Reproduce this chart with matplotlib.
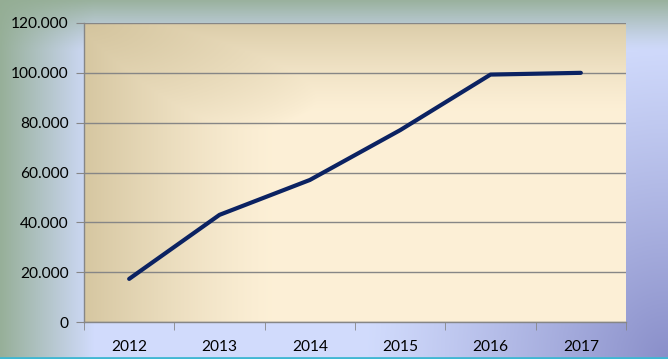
import numpy as np
import matplotlib
matplotlib.use("Agg")
import matplotlib.pyplot as plt
from matplotlib.ticker import FuncFormatter, FixedLocator, MultipleLocator

years = ["2012", "2013", "2014", "2015", "2016", "2017"]
values = [17300, 43000, 57000, 77000, 99300, 100000]

W, H = 668, 359
fig = plt.figure(figsize=(W / 100, H / 100), dpi=100)

# figure background gradient
bg = fig.add_axes([0, 0, 1, 1], zorder=-10)
xx, yy = np.meshgrid(np.linspace(0, 1, 300), np.linspace(0, 1, 200))
green = np.array([0.58, 0.68, 0.58])
blue = np.array([0.82, 0.86, 0.99])
purple = np.array([0.54, 0.56, 0.79])
img = np.zeros((200, 300, 3)) + blue
wl = np.clip(1 - xx / 0.14, 0, 1)[..., None]
img = img * (1 - wl * 0.95) + green * wl * 0.95
wt = np.clip(1 - yy / 0.14, 0, 1)[..., None] ** 1.2
img = img * (1 - wt * 0.9) + green * wt * 0.9
d = np.sqrt(((1 - xx) / 0.45) ** 2 + ((1 - yy) / 0.9) ** 2)
wp = np.clip(1 - d, 0, 1)[..., None] ** 1.1
img = img * (1 - wp) + purple * wp
bg.imshow(img, aspect="auto", extent=[0, 1, 1, 0])
bg.set_xlim(0, 1)
bg.set_ylim(1, 0)
bg.axhline(0.997, color="#3fb7d2", lw=2)
bg.axis("off")

ax = fig.add_axes([84 / W, 1 - 322 / H, (626 - 84) / W, (322 - 23) / H])
# plot area gradient (row 0 = top)
px, py = np.meshgrid(np.linspace(0, 1, 300), np.linspace(0, 1, 200))
tan = np.array([0.83, 0.77, 0.62])
light = np.array([0.99, 0.94, 0.84])
pimg = np.zeros((200, 300, 3)) + light
dist = np.sqrt((px / 0.55) ** 2 + (py / 0.45) ** 2)
w1 = np.clip(1 - dist, 0, 1)[..., None] ** 0.8
wl2 = np.clip(1 - px / 0.35, 0, 1)[..., None] ** 1.3
wt2 = np.clip(1 - py / 0.3, 0, 1)[..., None] ** 1.3
w = np.clip(np.maximum(np.maximum(w1, wl2 * 0.95), wt2 * 0.8), 0, 1)
pimg = pimg * (1 - w) + tan * w
ax.imshow(pimg, aspect="auto", extent=[-0.5, 5.5, 0, 120000], origin="upper", zorder=0)

ax.set_xlim(-0.5, 5.5)
ax.set_ylim(0, 120000)
ax.yaxis.set_major_locator(MultipleLocator(20000))
ax.grid(axis="y", color="#868686", lw=1, zorder=1)
ax.set_axisbelow(False)

x = np.arange(len(years))
ax.plot(x, values, color="#0b2262", lw=3, solid_capstyle="round", zorder=3)

def fmt(v, pos):
    if v == 0:
        return "0"
    return f"{v:,.0f}".replace(",", ".")

ax.yaxis.set_major_formatter(FuncFormatter(fmt))
ax.set_xticks(x)
ax.set_xticklabels(years)
ax.xaxis.set_minor_locator(FixedLocator(np.arange(-0.5, 6.0, 1)))
ax.tick_params(axis="x", which="major", length=0, pad=13)
ax.tick_params(axis="x", which="minor", length=6, color="#868686", direction="out")
ax.tick_params(axis="y", length=6, color="#868686", pad=5)
for lab in ax.get_xticklabels() + ax.get_yticklabels():
    lab.set_family(["Lato", "DejaVu Sans"])
    lab.set_fontsize(11.2)
    lab.set_color("black")

for s in ["top", "right"]:
    ax.spines[s].set_visible(False)
for s in ["left", "bottom"]:
    ax.spines[s].set_color("#868686")
    ax.spines[s].set_linewidth(1)

fig.savefig("out.png", dpi=100)
